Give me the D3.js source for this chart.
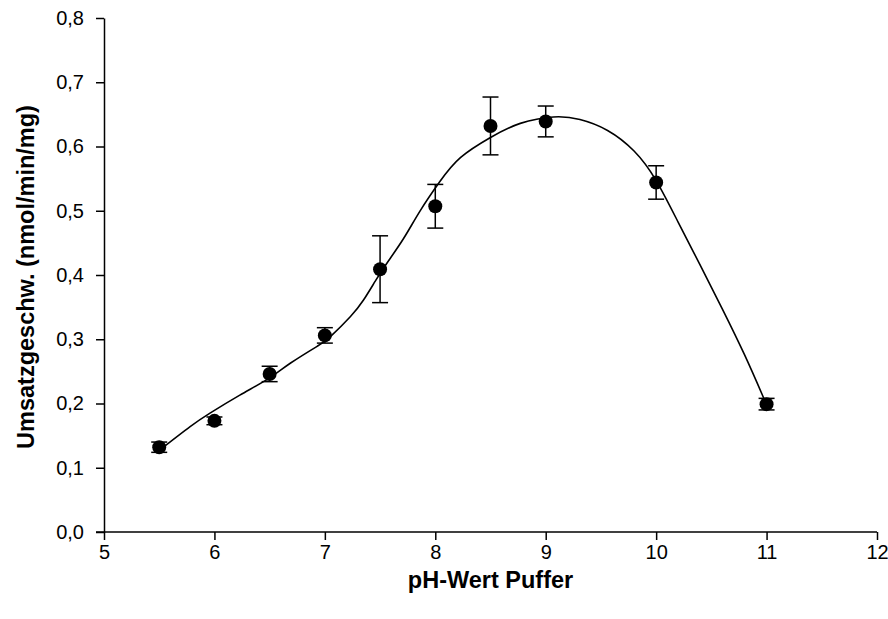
<html>
<head>
    <script src="https://d3js.org/d3.v7.min.js"></script>
    <style>
        body { margin: 0; background: #fff; }
        text { font-family: "Liberation Sans", Arial, sans-serif; }
    </style>
</head>
<body>
    <svg id="chartArea" width="888" height="619"></svg>
    <script>
        // measured points (pH, rate, std error)
        const phValues = [5.5, 6.0, 6.5, 7.0, 7.5, 8.0, 8.5, 9.0, 10.0, 11.0];
        const rateValues = [0.132, 0.173, 0.246, 0.306, 0.409, 0.507, 0.632, 0.639, 0.544, 0.199];
        const errValues = [0.008, 0.006, 0.012, 0.012, 0.052, 0.034, 0.045, 0.024, 0.026, 0.009];

        // fitted curve
        const curveX = [5.5, 5.78, 5.96, 6.23, 6.5, 6.69, 6.93, 7.05, 7.23, 7.35, 7.455, 7.56, 7.71, 7.86, 8.04, 8.23, 8.5, 8.77,
            9.07, 9.31, 9.56, 9.8, 10.0, 10.2, 10.4, 10.6, 10.8, 10.96, 11.0];
        const curveY = [0.127, 0.164, 0.185, 0.213, 0.240, 0.263, 0.289, 0.304, 0.335, 0.361, 0.390, 0.418, 0.456, 0.499, 0.545, 0.583, 0.614, 0.636,
            0.646, 0.642, 0.625, 0.593, 0.547, 0.482, 0.415, 0.347, 0.276, 0.214, 0.198];

        const xTicks = [5, 6, 7, 8, 9, 10, 11, 12];
        const yTicks = [0, 0.1, 0.2, 0.3, 0.4, 0.5, 0.6, 0.7, 0.8];

        const svg = d3.select("#chartArea");
        const width = +svg.attr("width");
        const height = +svg.attr("height");
        const margins = { top: 18, right: 11, bottom: 87, left: 104 };
        const chartWidth = width - margins.left - margins.right;
        const chartHeight = height - margins.top - margins.bottom;

        const chartArea = svg.append("g")
            .attr("transform", `translate(${margins.left},${margins.top})`);

        const xScale = d3.scaleLinear().domain([5, 12]).range([0, chartWidth]);
        const yScale = d3.scaleLinear().domain([0, 0.8]).range([chartHeight, 0]);

        const fmt = d => d3.format(".1f")(d).replace(".", ",");

        // axes
        const xAxis = chartArea.append("g")
            .attr("transform", `translate(0,${chartHeight})`)
            .call(d3.axisBottom(xScale).tickValues(xTicks).tickSize(8).tickSizeOuter(0).tickPadding(5).tickFormat(d3.format("d")));
        const yAxis = chartArea.append("g")
            .call(d3.axisLeft(yScale).tickValues(yTicks).tickSize(8).tickSizeOuter(0).tickPadding(12).tickFormat(fmt));

        [xAxis, yAxis].forEach(a => {
            a.selectAll("path, line").attr("stroke", "#000").attr("stroke-width", 1.5);
            a.selectAll("text").attr("font-size", "20px").attr("fill", "#000")
                .attr("font-family", "'Liberation Sans', Arial, sans-serif");
        });
        // x axis line reaches back over the 0,0 tick like the original
        xAxis.select("path.domain").attr("d", `M-8,0H${chartWidth}`);

        // fitted curve
        const curvePts = curveX.map((x, i) => [x, curveY[i]]);
        const line = d3.line()
            .x(d => xScale(d[0]))
            .y(d => yScale(d[1]))
            .curve(d3.curveNatural);
        chartArea.append("path")
            .datum(curvePts)
            .attr("fill", "none")
            .attr("stroke", "#000")
            .attr("stroke-width", 1.6)
            .attr("d", line);

        // error bars
        const pts = phValues.map((x, i) => ({ x: x, y: rateValues[i], e: errValues[i] }));
        const bars = chartArea.selectAll("g.err").data(pts)
            .join("g")
            .attr("class", "err")
            .attr("stroke", "#000")
            .attr("stroke-width", 1.5);
        bars.append("line")
            .attr("x1", d => xScale(d.x)).attr("x2", d => xScale(d.x))
            .attr("y1", d => yScale(d.y - d.e)).attr("y2", d => yScale(d.y + d.e));
        bars.append("line")
            .attr("x1", d => xScale(d.x) - 8).attr("x2", d => xScale(d.x) + 8)
            .attr("y1", d => yScale(d.y + d.e)).attr("y2", d => yScale(d.y + d.e));
        bars.append("line")
            .attr("x1", d => xScale(d.x) - 8).attr("x2", d => xScale(d.x) + 8)
            .attr("y1", d => yScale(d.y - d.e)).attr("y2", d => yScale(d.y - d.e));

        // points
        chartArea.selectAll("circle.node").data(pts)
            .join("circle")
            .attr("class", "node")
            .attr("cx", d => xScale(d.x))
            .attr("cy", d => yScale(d.y))
            .attr("r", 7)
            .attr("fill", "#000");

        // axis titles
        svg.append("text")
            .attr("x", margins.left + chartWidth / 2)
            .attr("y", 588)
            .attr("text-anchor", "middle")
            .attr("font-size", "23.5px")
            .attr("font-weight", "bold")
            .text("pH-Wert Puffer");

        svg.append("text")
            .attr("transform", `translate(34,${margins.top + chartHeight / 2 + 2}) rotate(-90)`)
            .attr("text-anchor", "middle")
            .attr("font-size", "23.5px")
            .attr("font-weight", "bold")
            .text("Umsatzgeschw. (nmol/min/mg)");
    </script>
</body>
</html>
